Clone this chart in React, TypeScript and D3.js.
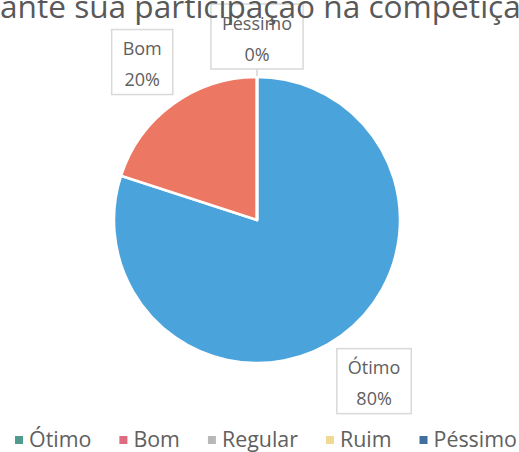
import React, { useEffect, useRef } from "react";
import * as d3 from "d3";

const categories = ["Ótimo", "Bom", "Regular", "Ruim", "Péssimo"];
const values = [80, 20, 0, 0, 0];
const sliceColors = ["#4ba3dc", "#ec7763", "#a5a5a5", "#f5c242", "#3f74a8"];
const legendColors = ["#4f9b8e", "#df6c7c", "#b8b8b8", "#f2d991", "#3f6f9c"];
const labelled = ["Ótimo", "Bom", "Péssimo"];
const titleText = "Como você avalia sua experiência durante sua participação na competição?";
const titleVisibleStart = "ante sua";

const W = 519;
const H = 452;

export default function App() {
  const ref = useRef<SVGSVGElement>(null);

  useEffect(() => {
    const svg = d3.select(ref.current);
    svg.selectAll("*").remove();
    const font = "'Open Sans', sans-serif";
    const textColor = "#606060";

    const cx = 257;
    const cy = 220;
    const r = 143;

    const pie = d3.pie<number>().sort(null).value((d) => d);
    const arcs = pie(values);
    const arc = d3.arc<d3.PieArcDatum<number>>().innerRadius(0).outerRadius(r);

    const g = svg.append("g").attr("transform", `translate(${cx},${cy})`);
    g.selectAll("path")
      .data(arcs)
      .join("path")
      .attr("d", arc)
      .attr("fill", (_, i) => sliceColors[i])
      .attr("stroke", "#ffffff")
      .attr("stroke-width", 2.5)
      .attr("stroke-linejoin", "round");

    // Data labels
    const labelFont = 18;
    const hh = 32.5;
    const total = d3.sum(values);
    arcs.forEach((a, i) => {
      const name = categories[i];
      if (!labelled.includes(name)) return;
      const pct = Math.round((values[i] / total) * 100) + "%";
      const lg = g.append("g");
      const rect = lg.append("rect");
      const t1 = lg
        .append("text")
        .attr("text-anchor", "middle")
        .attr("y", -7)
        .attr("font-family", font)
        .attr("font-size", labelFont)
        .attr("fill", textColor)
        .text(name);
      lg.append("text")
        .attr("text-anchor", "middle")
        .attr("y", 24)
        .attr("font-family", font)
        .attr("font-size", labelFont)
        .attr("fill", textColor)
        .text(pct);
      const tw = (t1.node() as SVGTextElement).getComputedTextLength();
      const hw = tw / 2 + 11;
      rect
        .attr("x", -hw)
        .attr("y", -hh)
        .attr("width", hw * 2)
        .attr("height", hh * 2)
        .attr("fill", "#ffffff")
        .attr("stroke", "#d9d9d9")
        .attr("stroke-width", 1.5);
      const mid = (a.startAngle + a.endAngle) / 2;
      const dx = Math.sin(mid);
      const dy = -Math.cos(mid);
      const dist = r + 8 + hw * Math.abs(dx) + hh * Math.abs(dy);
      const lx = dx * dist;
      const ly = dy * dist;
      lg.attr("transform", `translate(${lx},${ly})`);
      if (values[i] === 0) {
        g.insert("line", "g")
          .attr("x1", dx * (r + 1))
          .attr("y1", dy * (r + 1))
          .attr("x2", lx + dx * hh)
          .attr("y2", ly + dy * hh)
          .attr("stroke", "#bfbfbf")
          .attr("stroke-width", 1);
      }
    });

    // Title (cropped at the top of the picture), drawn above the labels
    const title = svg
      .append("text")
      .attr("x", 0)
      .attr("y", 18)
      .attr("font-family", font)
      .attr("font-size", 28)
      .attr("fill", "#595959")
      .text(titleText);
    const tNode = title.node() as SVGTextElement;
    const idx = titleText.indexOf(titleVisibleStart);
    const endIdx = titleText.lastIndexOf("ã");
    const x0 = tNode.getStartPositionOfChar(idx).x;
    const x1 = tNode.getEndPositionOfChar(endIdx).x;
    const size = (28 * 521) / (x1 - x0);
    title.attr("font-size", size);
    const x0b = tNode.getStartPositionOfChar(idx).x;
    title.attr("x", -x0b);

    // Legend
    const legendY = 440;
    const markerSize = 8;
    const markerGap = 6;
    const itemGap = 28;
    const lgG = svg.append("g");
    const items = categories.map((c, i) => {
      const it = lgG.append("g");
      it.append("rect")
        .attr("x", 0)
        .attr("y", legendY - markerSize / 2)
        .attr("width", markerSize)
        .attr("height", markerSize)
        .attr("fill", legendColors[i]);
      const t = it
        .append("text")
        .attr("x", markerSize + markerGap)
        .attr("y", legendY + 7)
        .attr("font-family", font)
        .attr("font-size", 18)
        .attr("fill", textColor)
        .text(c);
      return { it, t };
    });
    const textW18 = d3.sum(items, (d) => (d.t.node() as SVGTextElement).getComputedTextLength());
    const fixedW = items.length * (markerSize + markerGap) + itemGap * (items.length - 1);
    const legendFont = (18 * (502 - fixedW)) / textW18;
    let x = 15;
    items.forEach((d) => {
      d.t.attr("font-size", legendFont);
      const w = (d.t.node() as SVGTextElement).getComputedTextLength();
      d.it.attr("transform", `translate(${x},0)`);
      x += markerSize + markerGap + w + itemGap;
    });
  }, []);

  return (
    <svg
      ref={ref}
      width={W}
      height={H}
      style={{ position: "absolute", left: 0, top: 0, background: "#ffffff" }}
    />
  );
}
